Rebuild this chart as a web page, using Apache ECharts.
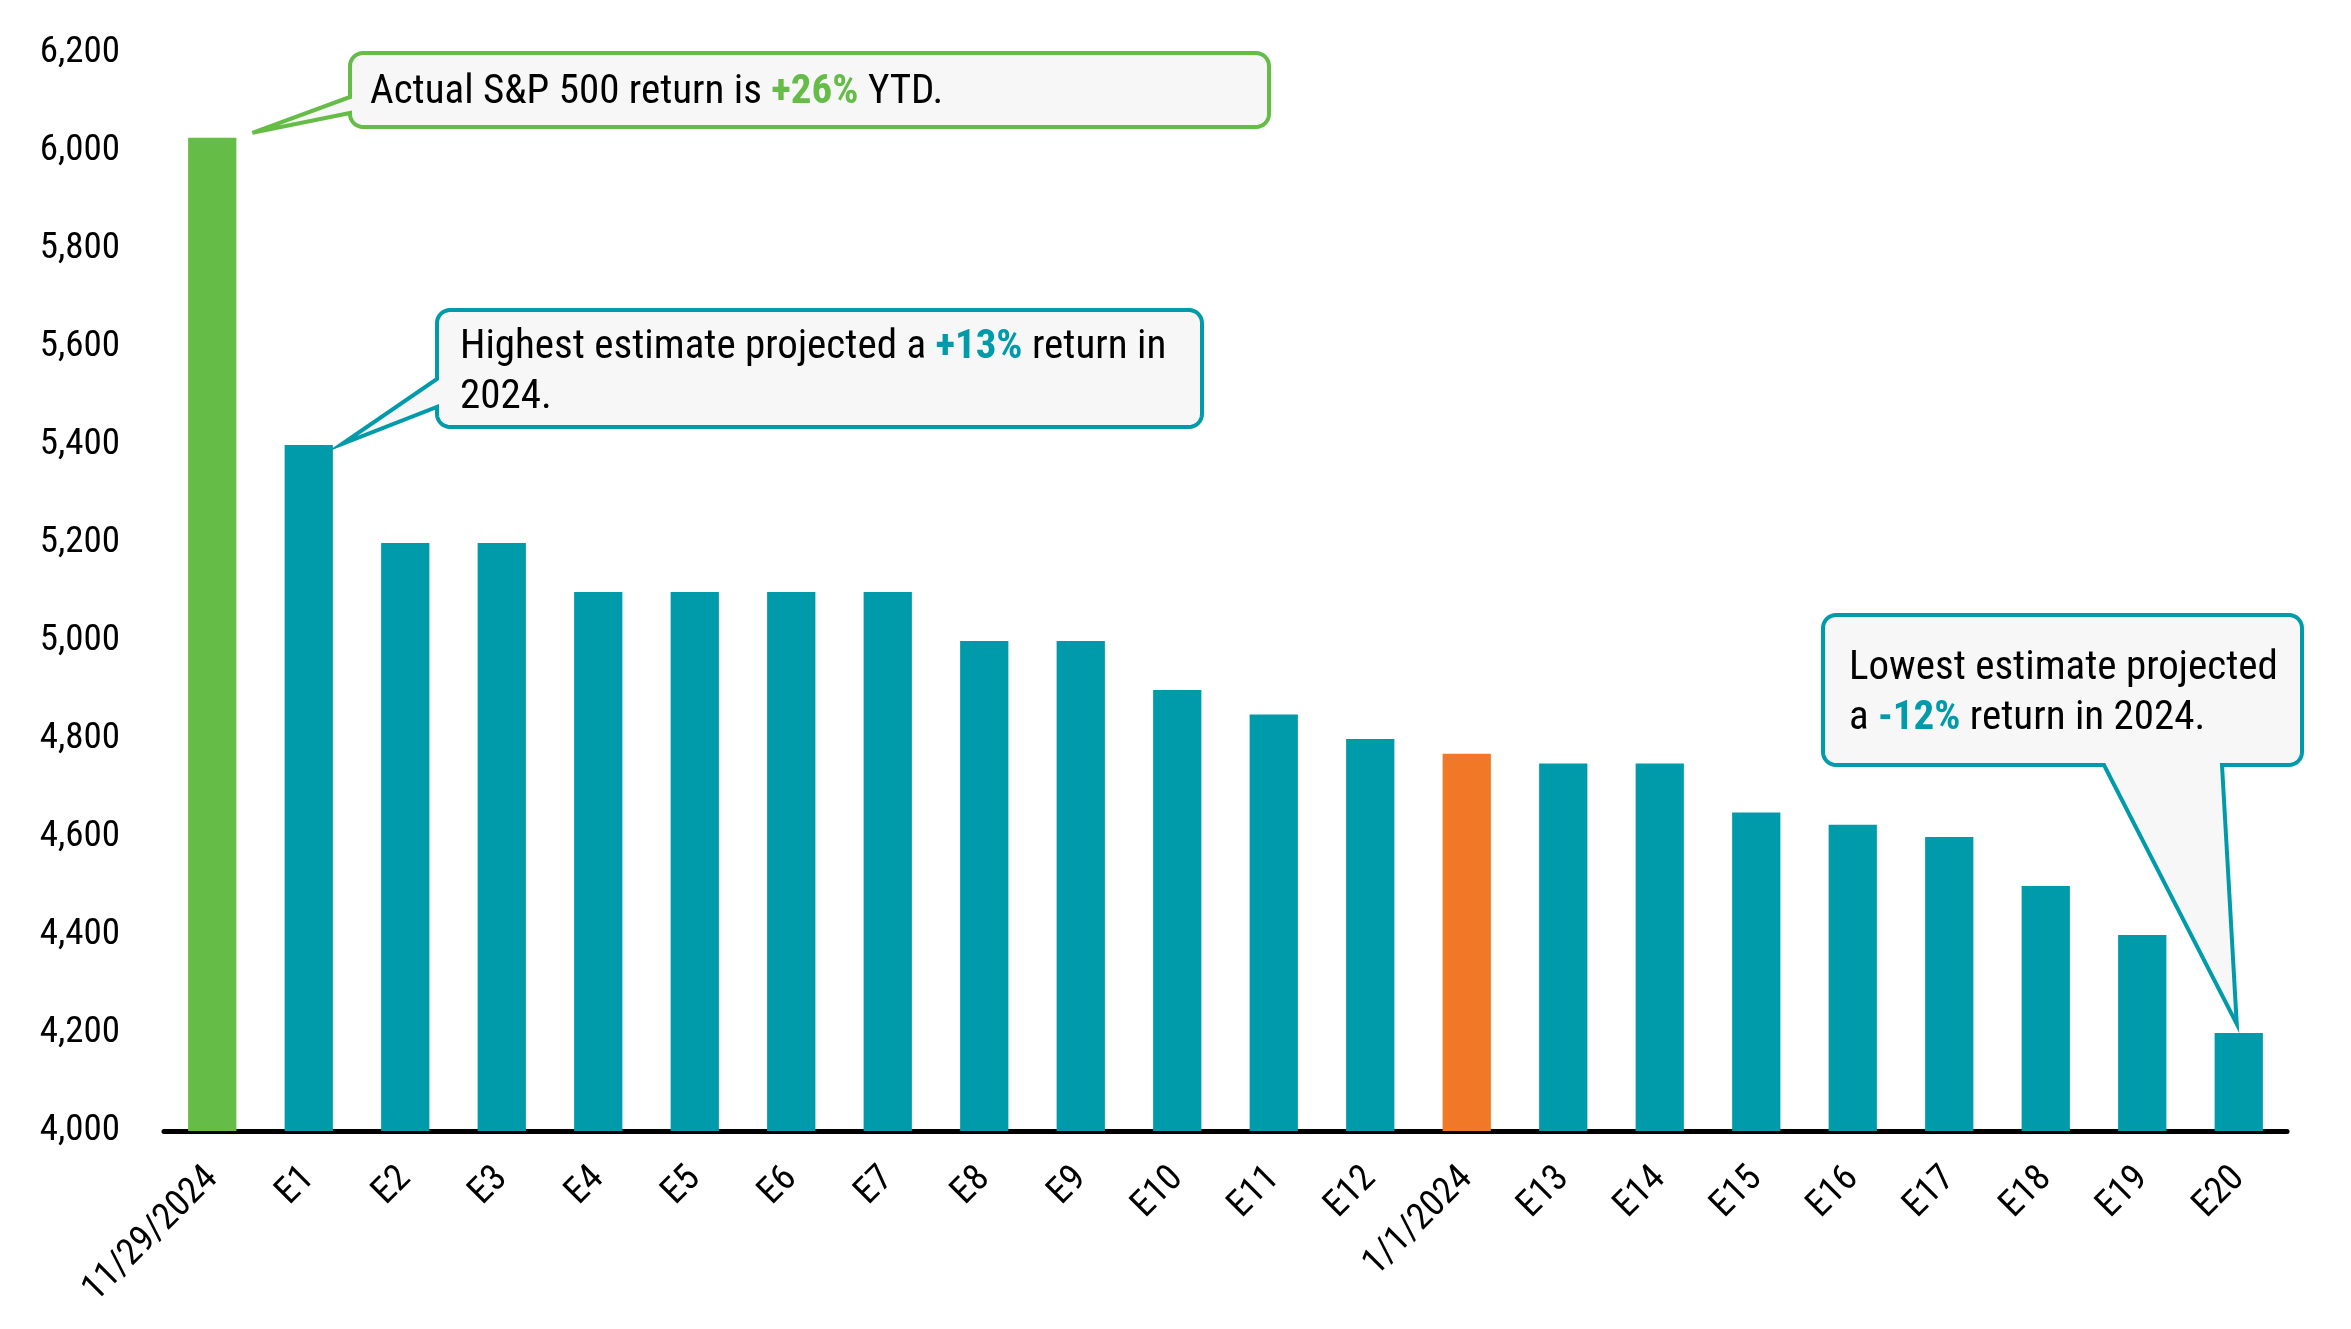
<!DOCTYPE html>
<html><head><meta charset="utf-8">
<script src="https://cdn.jsdelivr.net/npm/echarts@6/dist/echarts.min.js"></script>
<style>html,body{margin:0;padding:0;background:#fff;}#c{width:2351px;height:1329px;}</style>
</head><body><div id="c"></div>
<script>
// ---- data ----
const categories = ['11/29/2024','E1','E2','E3','E4','E5','E6','E7','E8','E9','E10','E11','E12','1/1/2024','E13','E14','E15','E16','E17','E18','E19','E20'];
const values = [6027,5400,5200,5200,5100,5100,5100,5100,5000,5000,4900,4850,4800,4770,4750,4750,4650,4625,4600,4500,4400,4200];
const yMin = 4000, yMax = 6200, yStep = 200;
const actualCategory = '11/29/2024';
const startCategory = '1/1/2024';

// ---- styles ----
const FONT = "'Roboto Condensed','Liberation Sans Narrow','Arial Narrow','DejaVu Sans Condensed',Roboto,sans-serif";
const GREEN = '#65BC46', TEAL = '#009BAA', ORANGE = '#F07826', BOXFILL = '#F7F7F7';

const chart = echarts.init(document.getElementById('c'));
chart.setOption({
  animation: false,
  backgroundColor: '#fff',
  grid: { left: 164, right: 64, top: 53, bottom: 198 },
  xAxis: {
    type: 'category', data: categories,
    axisLine: { lineStyle: { color: '#000', width: 5 } },
    axisTick: { show: false },
    axisLabel: { interval: 0, rotate: 45, fontSize: 37, color: '#000', margin: 42, fontFamily: FONT }
  },
  yAxis: {
    type: 'value', min: yMin, max: yMax, interval: yStep,
    axisLine: { show: false }, axisTick: { show: false }, splitLine: { show: false },
    axisLabel: { fontSize: 37, color: '#000', margin: 44, fontFamily: FONT,
      formatter: v => v.toLocaleString('en-US') }
  },
  series: [{
    type: 'bar', data: values, barWidth: '50%',
    itemStyle: { color: p => p.name === actualCategory ? GREEN : (p.name === startCategory ? ORANGE : TEAL) }
  }]
});

function px(i) { return chart.convertToPixel({ seriesIndex: 0 }, [i, values[i]]); }
const catW = chart.convertToPixel({ xAxisIndex: 0 }, 1) - chart.convertToPixel({ xAxisIndex: 0 }, 0);
const half = catW * 0.25;

// rounded box outline with a tail on the left or bottom edge, as polygon points
function calloutPoints(b, tail) {
  const { x, y, w, h } = b, r = 13, pts = [];
  const arc = (cx, cy, a0, a1) => {
    for (let k = 0; k <= 8; k++) {
      const a = (a0 + (a1 - a0) * k / 8) * Math.PI / 180;
      pts.push([cx + r * Math.cos(a), cy + r * Math.sin(a)]);
    }
  };
  arc(x + w - r, y + r, -90, 0);
  arc(x + w - r, y + h - r, 0, 90);
  if (tail.edge === 'bottom') { pts.push([tail.b2, y + h], tail.tip, [tail.b1, y + h]); }
  arc(x + r, y + h - r, 90, 180);
  if (tail.edge === 'left') { pts.push([x, tail.b2], tail.tip, [x, tail.b1]); }
  arc(x + r, y + r, 180, 270);
  return pts;
}

const p0 = px(0), p1 = px(1), p20 = px(values.length - 1);

const callouts = [
  { box: { x: 350, y: 53, w: 919, h: 74 }, color: GREEN,
    tail: { edge: 'left', b1: 97, b2: 113, tip: [p0[0] + half + 16, p0[1] - 5] },
    tx: 370, ty: 68,
    text: '{n|Actual S&P 500 return is }{g|+26%}{n| YTD.}' },
  { box: { x: 437, y: 310, w: 765, h: 117 }, color: TEAL,
    tail: { edge: 'left', b1: 379, b2: 407, tip: [p1[0] + half + 9, p1[1] - 1] },
    tx: 460, ty: 323,
    text: '{n|Highest estimate projected a }{t|+13%}{n| return in}\n{n|2024.}' },
  { box: { x: 1823, y: 615, w: 479, h: 150 }, color: TEAL,
    tail: { edge: 'bottom', b1: 2104, b2: 2222, tip: [p20[0] - 2, p20[1] - 9] },
    tx: 1849, ty: 644,
    text: '{n|Lowest estimate projected}\n{n|a }{t|-12%}{n| return in 2024.}' }
];

const rich = {
  n: { fontSize: 41, fontFamily: FONT, fill: '#000', lineHeight: 50 },
  g: { fontSize: 41, fontFamily: FONT, fontWeight: 'bold', fill: GREEN, lineHeight: 50 },
  t: { fontSize: 41, fontFamily: FONT, fontWeight: 'bold', fill: TEAL, lineHeight: 50 }
};

const graphics = [];
callouts.forEach(c => {
  graphics.push({ type: 'polygon', shape: { points: calloutPoints(c.box, c.tail) },
    style: { fill: BOXFILL, stroke: c.color, lineWidth: 4, lineJoin: 'miter' }, z: 10 });
  graphics.push({ type: 'text', x: c.tx, y: c.ty, z: 11,
    style: { text: c.text, rich: rich, fontSize: 41, fontFamily: FONT, fill: '#000', verticalAlign: 'top', align: 'left' } });
});
chart.setOption({ graphic: graphics });
</script></body></html>
